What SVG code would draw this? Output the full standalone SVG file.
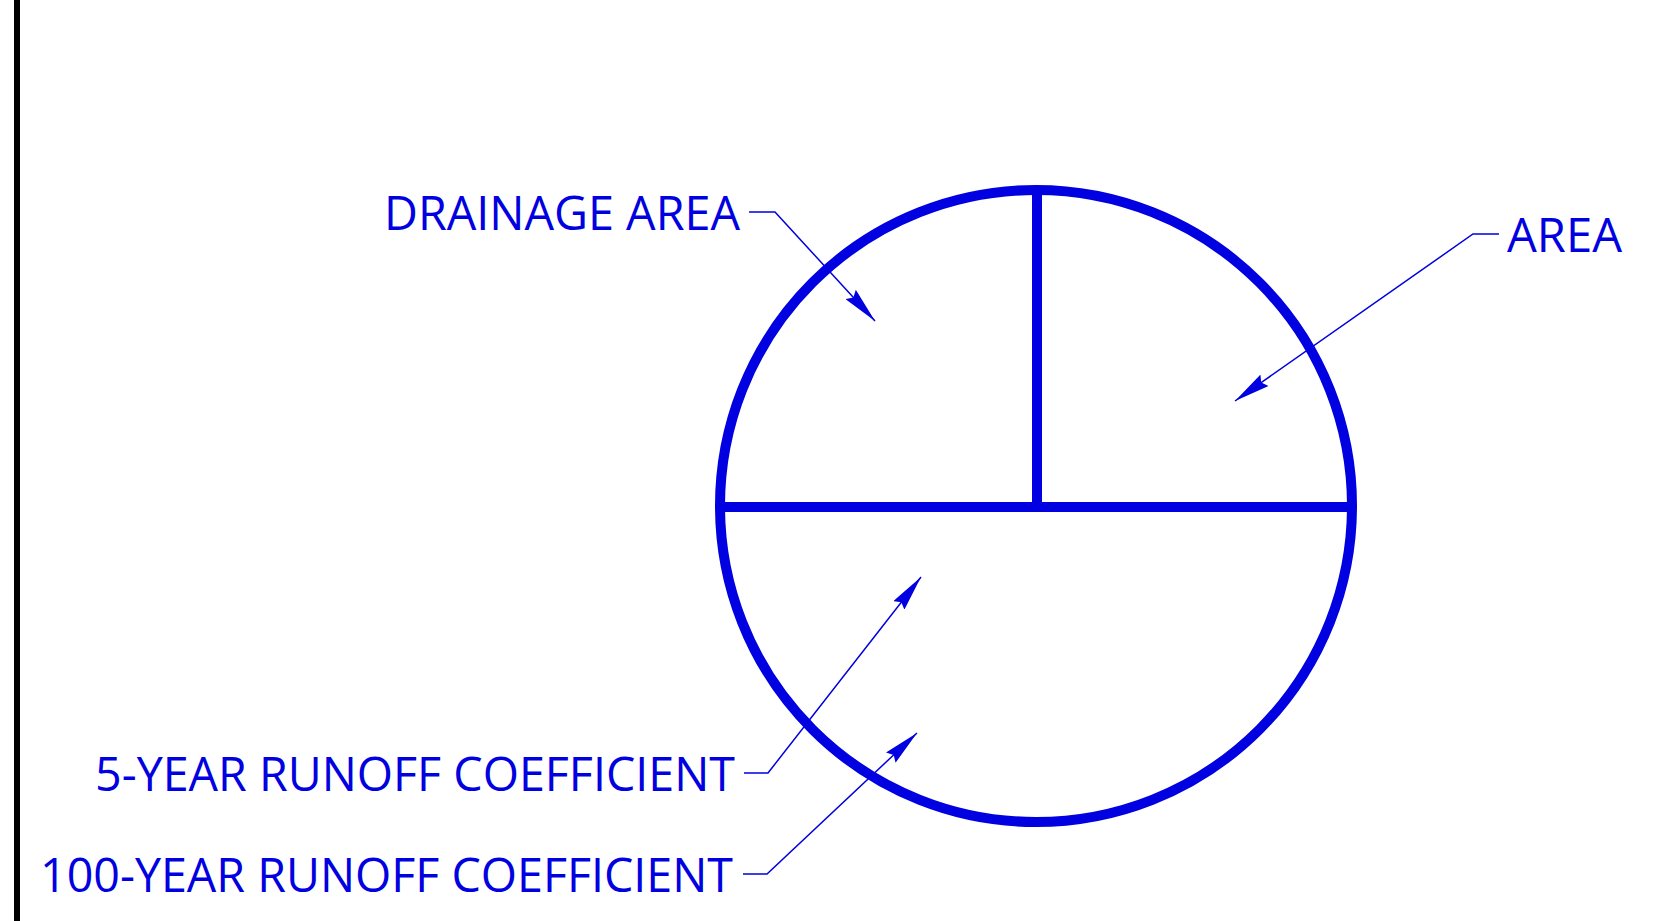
<svg xmlns="http://www.w3.org/2000/svg" width="1661" height="921" viewBox="0 0 1661 921">
<style>
.lbl{font-family:"Open Sans","Noto Sans","Liberation Sans",sans-serif;font-size:48px;fill:#0000E0;}
.ldr{fill:none;stroke:#0000E0;stroke-width:1.5;}
.thick{fill:none;stroke:#0000E0;stroke-width:10;}
</style>
<defs>
<marker id="arr" viewBox="0 0 36 14" refX="36" refY="7" markerWidth="36" markerHeight="14" markerUnits="userSpaceOnUse" orient="auto">
<path d="M0,0 L36,7 L0,14 L4,7 z" fill="#0000E0"/>
</marker>
</defs>
<rect width="1661" height="921" fill="#ffffff"/>
<rect x="14" y="0" width="6" height="921" fill="#000000"/>
<g id="circle-node">
<circle class="thick" cx="1036" cy="506" r="316"/>
<line class="thick" x1="720" y1="507" x2="1352" y2="507"/>
<line class="thick" x1="1037" y1="190" x2="1037" y2="507"/>
</g>
<g id="label-drainage-area"><text class="lbl" x="384" y="230" textLength="356" lengthAdjust="spacingAndGlyphs">DRAINAGE AREA</text></g>
<g id="label-area"><text class="lbl" x="1507" y="252" textLength="115" lengthAdjust="spacingAndGlyphs">AREA</text></g>
<g id="label-5yr"><text class="lbl" x="95" y="791" textLength="640" lengthAdjust="spacingAndGlyphs">5-YEAR RUNOFF COEFFICIENT</text></g>
<g id="label-100yr"><text class="lbl" x="40" y="892" textLength="693" lengthAdjust="spacingAndGlyphs">100-YEAR RUNOFF COEFFICIENT</text></g>
<g id="connectors">
<polyline class="ldr" points="749,212 775,212 875,321" marker-end="url(#arr)"/>
<polyline class="ldr" points="1499,234 1473,234 1235,401" marker-end="url(#arr)"/>
<polyline class="ldr" points="744,773 768,773 921,577" marker-end="url(#arr)"/>
<polyline class="ldr" points="743,874 767,874 917,733" marker-end="url(#arr)"/>
</g>
</svg>
